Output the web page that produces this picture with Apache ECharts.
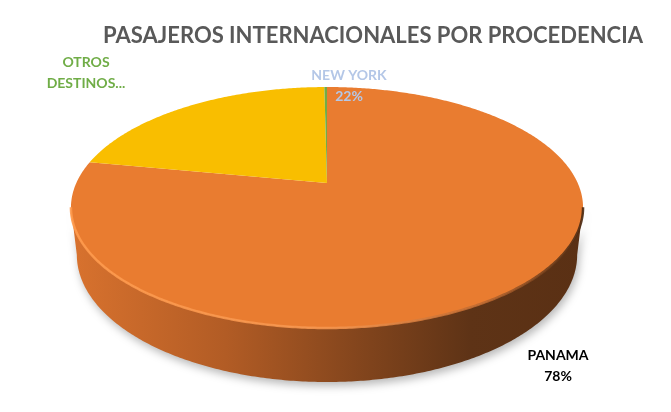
<!DOCTYPE html>
<html>
<head>
<meta charset="utf-8">
<script src="https://cdn.jsdelivr.net/npm/echarts@6/dist/echarts.min.js"></script>
<style>
  html, body { margin: 0; padding: 0; background: #fff; }
  #chart { width: 671px; height: 412px; }
</style>
</head>
<body>
<div id="chart"></div>
<script>
var categories = ['PANAMA', 'NEW YORK', 'OTROS DESTINOS'];
var values = [78.0, 21.8, 0.2];
var labelTexts = ['PANAMA\n{p}', 'NEW YORK\n{p}', 'OTROS\nDESTINOS...'];
var chartTitle = 'PASAJEROS INTERNACIONALES POR PROCEDENCIA';

var sliceColors = ['#E97C30', '#F9BE00', '#70AD47'];
var labelColors = ['#000000', '#B4C7E7', '#70AD47'];
var labelAt = [[558, 366], [349, 86], [86, 73]];

// fake 3d camera (perspective view of the pie disc)
var CX = 327, CY = 183, F = 1094.3, D = 4.365, SA = 0.4607, CA = 0.8875, H = 0.2136;
var FRONT0 = 101.6 * Math.PI / 180, FRONT1 = 2 * Math.PI - FRONT0;

var proj = function (phi, r, y) {
    var a = r * Math.sin(phi), b = -r * Math.cos(phi);
    var d = D - (y * SA + b * CA);
    var u = y * CA - b * SA;
    return [CX + F * a / d, CY - F * u / d];
}

var arc = function (p0, p1, y) {
    var pts = [], n = Math.max(2, Math.ceil((p1 - p0) / 0.01));
    for (var i = 0; i <= n; i++) {
        pts.push(proj(p0 + (p1 - p0) * i / n, 1, y));
    }
    return pts;
}

var total = values.reduce(function (s, v) { return s + v; }, 0);
var starts = [];
var acc = 0;
for (var i = 0; i < values.length; i++) {
    starts.push(acc / total * 2 * Math.PI);
    acc += values[i];
}

var wallFill = new echarts.graphic.LinearGradient(72, 0, 583, 0, [
    { offset: 0, color: '#D8722E' },
    { offset: 0.3, color: '#B25C25' },
    { offset: 0.55, color: '#85461D' },
    { offset: 0.78, color: '#5E3316' },
    { offset: 1, color: '#5A3014' }
], true);
var rimStroke = new echarts.graphic.LinearGradient(72, 0, 583, 0, [
    { offset: 0, color: '#FF9A4C' },
    { offset: 0.5, color: '#F6964F' },
    { offset: 0.8, color: '#C06A30' },
    { offset: 1, color: '#4A2810' }
], true);

var renderItem = function (params, api) {
    var idx = params.dataIndex;
    var v = api.value(0);
    var p0 = starts[idx], p1 = p0 + v / total * 2 * Math.PI;
    var children = [];

    var top = [proj(0, 0, 0)].concat(arc(p0, p1, 0));
    children.push({
        type: 'polygon', z2: 10,
        shape: { points: top },
        style: { fill: sliceColors[idx] }
    });

    // visible side wall of this slice
    var s = Math.max(p0, FRONT0), e = Math.min(p1, FRONT1);
    if (e > s) {
        var pts = arc(s, e, 0).concat(arc(s, e, -H).reverse());
        children.push({
            type: 'polygon', z2: 0,
            shape: { points: pts },
            style: {
                fill: wallFill,
                shadowColor: 'rgba(0,0,0,0.28)', shadowBlur: 9, shadowOffsetY: 4, shadowOffsetX: 2
            }
        });
        children.push({
            type: 'polyline', z2: 20,
            shape: { points: arc(s, e, 0) },
            style: { fill: null, stroke: rimStroke, lineWidth: 2.5, opacity: 0.9 }
        });
    }

    var pct = Math.round(v / total * 100) + '%';
    children.push({
        type: 'text', z2: 30,
        x: labelAt[idx][0], y: labelAt[idx][1],
        style: {
            text: labelTexts[idx].replace('{p}', pct),
            fill: labelColors[idx],
            font: 'bold 14px Lato',
            lineHeight: 21,
            align: 'center',
            verticalAlign: 'middle'
        }
    });
    return { type: 'group', children: children };
}

var myChart = echarts.init(document.getElementById('chart'));
var option = {
    animation: false,
    graphic: [{
        type: 'text',
        x: 373, y: 36,
        style: {
            text: chartTitle,
            fill: '#595959',
            font: 'bold 22px Lato',
            align: 'center',
            verticalAlign: 'middle'
        }
    }],
    series: [{
        type: 'custom',
        coordinateSystem: 'none',
        renderItem: renderItem,
        data: values.map(function (v, i) { return { name: categories[i], value: [v] }; })
    }]
};
myChart.setOption(option);
window.onresize = myChart.resize;
</script>
</body>
</html>
